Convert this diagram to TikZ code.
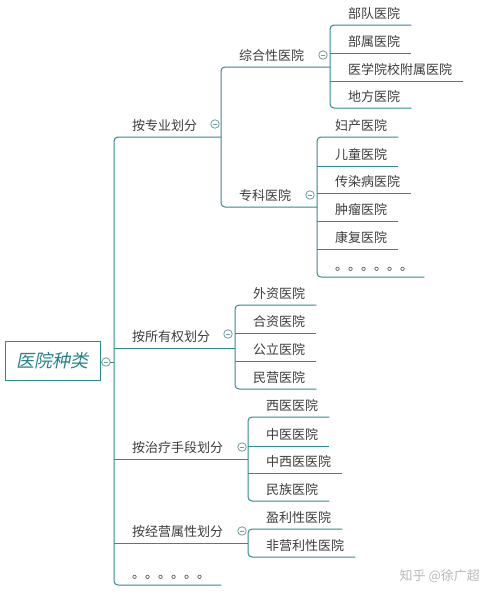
\documentclass[tikz,border=0pt]{standalone}
\usepackage{fontspec}
\setmainfont{Noto Sans CJK SC}
\newfontfamily\rootfont[FakeSlant=0.2]{Noto Sans CJK SC}
\definecolor{lncol}{RGB}{46,138,145}
\definecolor{txtcol}{RGB}{60,60,60}
\definecolor{btncol}{RGB}{110,155,160}
\definecolor{rootcol}{RGB}{40,130,140}
\newcommand\tn[4]{\node[txt,anchor=base west] (#1) at (#2+18,#3-7) {#4\kern11pt\relax};}
\newcommand\ul[3]{\draw[ln] (#2,#3) -- (#1.east |- #2,#3);}
\newcommand\br[5]{\draw[ln,rounded corners=4pt] (#2.east |- #1,#3) -- (#1,#3) -- (#1,#5) -- (#4.east |- #1,#5);}
\begin{document}
\begin{tikzpicture}[x=1pt,y=-1pt,
  ln/.style={draw=lncol,line width=1pt},
  txt/.style={inner sep=0pt,text=txtcol,font=\fontsize{13}{15}\selectfont},
  btn/.style={circle,draw=btncol,fill=white,minimum size=8.5pt,inner sep=0pt,line width=0.8pt,
    path picture={\draw[btncol,line width=0.8pt] ([xshift=2pt]path picture bounding box.west) -- ([xshift=-2pt]path picture bounding box.east);}}]
\useasboundingbox (0,0) rectangle (484,598);

% root
\node[draw=lncol,line width=1pt,minimum width=95pt,minimum height=39pt,inner sep=0pt,
  text=rootcol,font=\fontsize{18}{20}\selectfont\rootfont] (root) at (52.5,360.5) {医院种类};
\coordinate (trunk) at (114,362);
\draw[ln] (root.east |- trunk) -- (trunk);

% level 1
\tn{a1}{114}{137}{按专业划分}
\tn{a2}{114}{348}{按所有权划分}
\tn{a3}{114}{459}{按治疗手段划分}
\tn{a4}{114}{543}{按经营属性划分}
\tn{a5}{114}{585}{。。。。。。}
\draw[ln,rounded corners=4pt] (221,137) -- (114,137) -- (114,585) -- (a5.east |- 114,585);
\draw[ln] (114,348) -- (235,348);
\draw[ln] (114,459) -- (248,459);
\draw[ln] (114,543) -- (248,543);

% level 2
\tn{b1}{221}{67}{综合性医院}
\tn{b2}{221}{207}{专科医院}
\draw[ln,rounded corners=4pt] (330,67) -- (221,67) -- (221,207) -- (317,207);

% under 综合性医院
\tn{c1}{330}{25}{部队医院}
\tn{c2}{330}{53}{部属医院}
\tn{c3}{330}{81}{医学院校附属医院}
\tn{c4}{330}{108}{地方医院}
\br{330}{c1}{25}{c4}{108}
\ul{c2}{330}{53}
\ul{c3}{330}{81}

% under 专科医院
\tn{d1}{317}{137}{妇产医院}
\tn{d2}{317}{166}{儿童医院}
\tn{d3}{317}{193}{传染病医院}
\tn{d4}{317}{221}{肿瘤医院}
\tn{d5}{317}{249}{康复医院}
\tn{d6}{317}{277}{。。。。。。}
\br{317}{d1}{137}{d6}{277}
\ul{d2}{317}{166}
\ul{d3}{317}{193}
\ul{d4}{317}{221}
\ul{d5}{317}{249}

% under 按所有权划分
\tn{e1}{235}{305}{外资医院}
\tn{e2}{235}{333}{合资医院}
\tn{e3}{235}{361}{公立医院}
\tn{e4}{235}{389}{民营医院}
\br{235}{e1}{305}{e4}{389}
\ul{e2}{235}{333}
\ul{e3}{235}{361}

% under 按治疗手段划分
\tn{f1}{248}{417}{西医医院}
\tn{f2}{248}{446}{中医医院}
\tn{f3}{248}{473}{中西医医院}
\tn{f4}{248}{501}{民族医院}
\br{248}{f1}{417}{f4}{501}
\ul{f2}{248}{446}
\ul{f3}{248}{473}

% under 按经营属性划分
\tn{g1}{248}{529}{盈利性医院}
\tn{g2}{248}{557}{非营利性医院}
\br{248}{g1}{529}{g2}{557}

% collapse buttons
\node[btn] (k0) at (106,362) {};
\node[btn] (k1) at (215,124) {};
\node[btn] (k11) at (323,55) {};
\node[btn] (k12) at (310,195) {};
\node[btn] (k2) at (228,334) {};
\node[btn] (k3) at (242,447) {};
\node[btn] (k4) at (242,531) {};

% watermark
\node[inner sep=0pt,text=black!28,font=\fontsize{13}{15}\selectfont,anchor=east] (wm) at (480,576) {知乎 @徐广超};
\end{tikzpicture}
\end{document}
